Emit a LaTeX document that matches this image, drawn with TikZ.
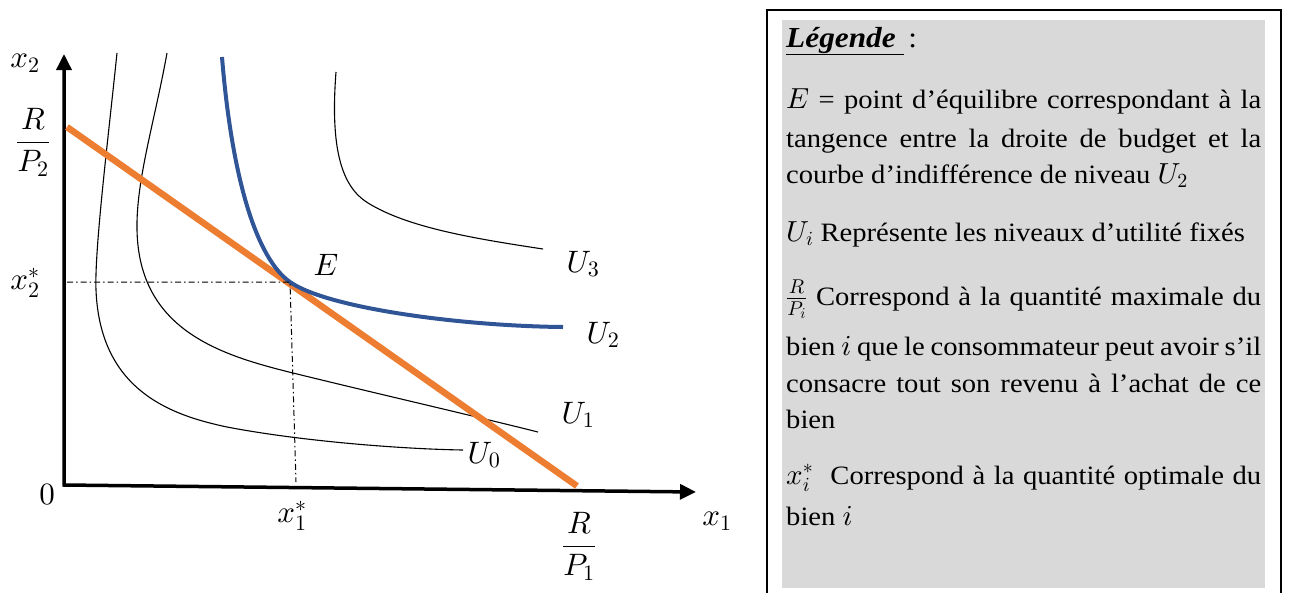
\documentclass[tikz,border=0pt]{standalone}
\usepackage{fontspec}
\setmainfont{Liberation Serif}[FakeStretch=1.08]
\DeclareFontShape{OML}{cmm}{m}{it}{<->cmmi10}{}
\DeclareFontShape{OMS}{cmsy}{m}{n}{<->cmsy10}{}
\DeclareFontShape{OT1}{cmr}{m}{n}{<->cmr10}{}
\DeclareMathSizes{31}{31}{22}{16}
\DeclareMathSizes{26.5}{29}{20}{15}
\usetikzlibrary{arrows.meta}
\definecolor{budget}{HTML}{ED7D31}
\definecolor{utilblue}{HTML}{2F5597}
\definecolor{legendgray}{HTML}{D9D9D9}
\newcommand{\legsize}{\fontsize{26.5}{32}\selectfont}
\newcommand{\labsize}{\fontsize{31}{36}\selectfont}
\newcommand{\jline}[1]{\makebox[475pt][s]{#1}}
\begin{document}
\begin{tikzpicture}[x=1pt,y=-1pt,
  axis/.style={line width=3.5pt,line join=miter,{Triangle[length=16pt,width=15pt]}-{Triangle[length=16pt,width=15pt]}},
  indiff/.style={line width=1.1pt,black},
  optimal/.style={line width=4pt,utilblue},
  budgetline/.style={line width=6.5pt,budget},
  guide/.style={line width=1pt,black,dash pattern=on 6pt off 3pt on 1.5pt off 3pt},
  lab/.style={font=\labsize,inner sep=0pt},
  leg/.style={font=\legsize,anchor=base west,inner sep=0pt},
  legbox/.style={draw=black,line width=1.2pt,fill=white},
  legfill/.style={fill=legendgray,draw=none}]
\useasboundingbox (0,0) rectangle (1293,592);
% axes
\coordinate (ytip) at (64,54);
\coordinate (O) at (64,485);
\coordinate (xtip) at (696,492);
\draw[axis] (ytip) -- (O) -- (xtip);
% indifference curves
\draw[indiff] (117,53) .. controls (108,140) and (94.4,250) .. (96,290)
  .. controls (100,390) and (170,415) .. (227,427)
  .. controls (300,441) and (400,449) .. (463,450);
\draw[indiff] (167,53) .. controls (155,120) and (136,180) .. (137,230)
  .. controls (139,330) and (220,355) .. (293,373)
  .. controls (366,391) and (470,415) .. (538,432);
\draw[indiff] (336,72) .. controls (330,150) and (342,187) .. (368,203)
  .. controls (407,227) and (470,238) .. (543,249);
% budget line
\coordinate (B2) at (67,127);
\coordinate (B1) at (577,486);
\draw[budgetline] (B2) -- (B1);
% optimal indifference curve
\coordinate (E) at (290,282);
\draw[optimal] (222,57) .. controls (232,180) and (257,259) .. (E)
  .. controls (327,308) and (460,326) .. (563,327);
% guides
\coordinate (gx) at (67,282);
\coordinate (gy) at (296,482);
\draw[guide] (gx) -- (E) -- (gy);
% labels
\node[lab] (lx2) at (25,63) {$x_2$};
\node[lab] (lRP2) at (33,142) {$\displaystyle\frac{R}{P_2}$};
\node[lab] (lx2s) at (25,283) {$x_2^*$};
\node[lab] (l0) at (47,495) {$0$};
\node[lab] (lx1s) at (292,516) {$x_1^*$};
\node[lab] (lRP1) at (579,546) {$\displaystyle\frac{R}{P_1}$};
\node[lab] (lx1) at (717,521) {$x_1$};
\node[lab] (lE) at (326,265) {$E$};
\node[lab] (lU3) at (583,264) {$U_3$};
\node[lab] (lU2) at (603,335) {$U_2$};
\node[lab] (lU1) at (578,415) {$U_1$};
\node[lab] (lU0) at (484,455) {$U_0$};
% legend
\draw[legbox] (767,10) rectangle (1281,620);
\fill[legfill] (782,20) rectangle (1265,588);
\node[leg] (h) at (786,47) {\fontsize{29}{32}\selectfont\textbf{\textit{\underline{Légende\ }}}\,:};
\node[leg] (t1) at (786,108) {\jline{$E$ = point d’équilibre correspondant à la}};
\node[leg] (t2) at (786,147) {\jline{tangence entre la droite de budget et la}};
\node[leg] (t3) at (786,183) {courbe d’indifférence de niveau $U_2$};
\node[leg] (t4) at (786,241) {$U_i$ Représente les niveaux d’utilité fixés};
\node[leg] (t5) at (786,305) {\jline{$\frac{R}{P_i}$ Correspond à la quantité maximale du}};
\node[leg] (t6) at (786,355) {\jline{bien $i$ que le consommateur peut avoir s’il}};
\node[leg] (t7) at (786,392) {\jline{consacre tout son revenu à l’achat de ce}};
\node[leg] (t8) at (786,428) {bien};
\node[leg] (t9) at (786,484) {\jline{$x_i^*$\ \ Correspond à la quantité optimale du}};
\node[leg] (t10) at (786,525) {bien $i$};
\end{tikzpicture}
\end{document}
